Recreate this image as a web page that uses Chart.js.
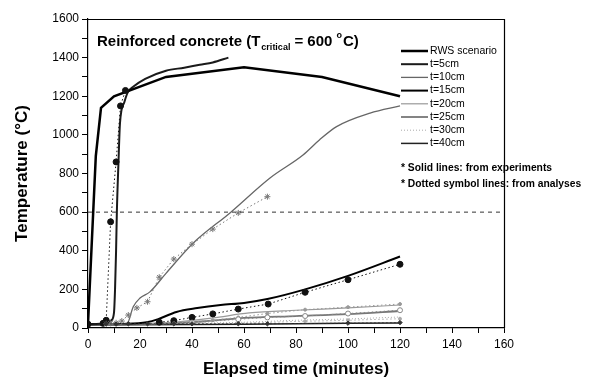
<!DOCTYPE html>
<html>
<head>
<meta charset="utf-8">
<script src="https://cdn.jsdelivr.net/npm/chart.js@4/dist/chart.umd.min.js"></script>
<style>
  body { margin: 0; background: #fff; }
  canvas { display: block; }
</style>
</head>
<body>
<canvas id="chart" width="597" height="378"></canvas>
<script>
// ---- data ----
var rwsTime = [0, 3, 5, 10, 30, 60, 90, 120];
var rwsTemp = [20, 890, 1140, 1200, 1300, 1350, 1300, 1200];

// experiments (solid lines)
var t5Time = [0, 7, 9, 10, 10.4, 10.8, 11.1, 11.7, 12.3, 14, 15.3, 17.5, 22, 30, 37, 43, 48, 54];
var t5Temp = [20, 25, 40, 80, 200, 400, 600, 850, 1060, 1170, 1220, 1250, 1290, 1332, 1348, 1363, 1375, 1400];
var t10Time = [0, 12, 15, 17.4, 20, 23.8, 30, 40.5, 54.6, 70, 82.7, 89, 95.6, 108.5, 120];
var t10Temp = [18, 18, 22, 110, 155, 187, 283, 440, 596, 777, 896, 974, 1043, 1113, 1150];
var t15Time = [0, 15, 22.6, 27, 34, 42, 51, 60, 69, 83.5, 100, 120];
var t15Temp = [20, 22, 30, 46, 83, 103, 119, 130, 150, 200, 270, 370];
var t20Time = [0, 20, 34, 48, 62, 80, 100, 120];
var t20Temp = [20, 22, 31, 52, 78, 92, 104, 119];
var t25Time = [0, 30, 45, 60, 80, 100, 120];
var t25Temp = [20, 24, 35, 52, 62, 72, 88];
var t30Time = [0, 40, 60, 80, 100, 120];
var t30Temp = [18, 24, 30, 40, 47, 57];
var t40Time = [0, 60, 120];
var t40Temp = [15, 20, 26];

// analyses (dotted symbol lines)
var a5Time = [0, 5.8, 7, 8.7, 10.8, 12.5, 14.4];
var a5Temp = [20, 24, 40, 550, 860, 1150, 1230];
var a10Time = [7, 8.7, 10.8, 13, 15.5, 18.8, 22.9, 27.4, 33, 40, 48, 57.8, 69];
var a10Temp = [22, 24, 27, 36, 67, 104, 136, 263, 357, 434, 512, 596, 680];
var a15Time = [27.4, 33, 40, 48, 57.8, 69.3, 83.5, 100, 120];
var a15Temp = [30, 38, 55, 73, 98, 124, 185, 250, 330];
var a20Time = [33, 48, 57.8, 69, 83.5, 100, 120];
var a20Temp = [25, 40, 55, 75, 95, 108, 124];
var a25Time = [40, 57.8, 69, 83.5, 100, 120];
var a25Temp = [28, 45, 55, 62, 75, 92];
var a30Time = [57.8, 83.5, 100, 120];
var a30Temp = [25, 35, 40, 48];
var a40Time = [7, 10.8, 15.5, 22.9, 33, 40, 57.8, 69, 100, 120];
var a40Temp = [22, 20, 22, 22, 22, 22, 22, 22, 25, 28];

var criticalTime = [0, 160];
var criticalTemp = [600, 600];

var xTicks = [0, 20, 40, 60, 80, 100, 120, 140, 160];
var yTicks = [0, 200, 400, 600, 800, 1000, 1200, 1400, 1600];

function pts(xs, ys) {
  return xs.map(function (x, i) { return { x: x, y: ys[i] }; });
}

var FONT = '"Liberation Sans", Arial, sans-serif';

function expSet(label, xs, ys, color, width, dash) {
  return {
    label: label, data: pts(xs, ys), showLine: true, inLegend: true,
    borderColor: color, borderWidth: width, borderDash: dash || [],
    pointRadius: 0, cubicInterpolationMode: 'monotone', fill: false
  };
}

function anaSet(label, xs, ys, color, style, radius, fillColor) {
  return {
    label: label, data: pts(xs, ys), showLine: true,
    borderColor: color, borderWidth: 1, borderDash: [1.5, 2.5],
    pointRadius: radius, pointStyle: style,
    pointBackgroundColor: fillColor, pointBorderColor: color, pointBorderWidth: 1,
    fill: false
  };
}

var datasets = [
  { label: 'critical', data: pts(criticalTime, criticalTemp), showLine: true,
    borderColor: '#333', borderWidth: 1, borderDash: [4, 4], pointRadius: 0 },
  anaSet('a40', a40Time, a40Temp, '#333', 'rectRot', 2.2, '#333'),
  anaSet('a30', a30Time, a30Temp, '#aaa', 'circle', 1.5, '#aaa'),
  anaSet('a25', a25Time, a25Temp, '#888', 'circle', 2.5, '#fff'),
  anaSet('a20', a20Time, a20Temp, '#999', 'circle', 1.5, '#999'),
  anaSet('a15', a15Time, a15Temp, '#111', 'circle', 3, '#111'),
  anaSet('a10', a10Time, a10Temp, '#777', 'star', 3, '#777'),
  anaSet('a5', a5Time, a5Temp, '#111', 'circle', 3, '#111'),
  expSet('RWS scenario', rwsTime, rwsTemp, '#000', 2.5),
  expSet('t=5cm', t5Time, t5Temp, '#1a1a1a', 2),
  expSet('t=10cm', t10Time, t10Temp, '#666', 1.3),
  expSet('t=15cm', t15Time, t15Temp, '#000', 2),
  expSet('t=20cm', t20Time, t20Temp, '#999', 1.2),
  expSet('t=25cm', t25Time, t25Temp, '#777', 1.8),
  expSet('t=30cm', t30Time, t30Temp, '#aaa', 1, [1, 2]),
  expSet('t=40cm', t40Time, t40Temp, '#222', 1.5)
];
// RWS is piecewise linear
datasets[8].cubicInterpolationMode = 'default';
datasets[8].tension = 0;

var decorPlugin = {
  id: 'decor',
  afterDatasetsDraw: function (chart) {
    var ctx = chart.ctx, a = chart.chartArea;
    ctx.save();
    // frame top and right
    ctx.strokeStyle = '#000';
    ctx.lineWidth = 1.2;
    ctx.beginPath();
    ctx.moveTo(a.left, a.top + 0.5);
    ctx.lineTo(a.right + 0.5, a.top + 0.5);
    ctx.lineTo(a.right + 0.5, a.bottom);
    ctx.stroke();

    // title with subscript and degree
    ctx.fillStyle = '#000';
    ctx.textBaseline = 'alphabetic';
    var x = 97, y = 46;
    ctx.font = 'bold 15px ' + FONT;
    ctx.fillText('Reinforced concrete (T', x, y);
    x += ctx.measureText('Reinforced concrete (T').width + 1;
    ctx.font = 'bold 9px ' + FONT;
    ctx.fillText('critical', x, y + 4);
    x += ctx.measureText('critical').width + 4;
    ctx.font = 'bold 15px ' + FONT;
    ctx.fillText('= 600 ', x, y);
    x += ctx.measureText('= 600 ').width;
    ctx.font = 'bold 9px ' + FONT;
    ctx.fillText('o', x, y - 8);
    x += ctx.measureText('o').width + 1;
    ctx.font = 'bold 15px ' + FONT;
    ctx.fillText('C)', x, y);

    // legend built from the experiment datasets
    var rows = chart.data.datasets.filter(function (d) { return d.inLegend; });
    ctx.font = '10.5px ' + FONT;
    ctx.textBaseline = 'middle';
    rows.forEach(function (d, i) {
      var ly = 51 + i * 13.2;
      ctx.strokeStyle = d.borderColor;
      ctx.lineWidth = d.borderWidth;
      ctx.setLineDash(d.borderDash || []);
      ctx.beginPath();
      ctx.moveTo(401, ly);
      ctx.lineTo(428, ly);
      ctx.stroke();
      ctx.setLineDash([]);
      ctx.fillStyle = '#000';
      ctx.fillText(d.label, 430, ly);
    });

    ctx.font = 'bold 10.3px ' + FONT;
    ctx.fillText('* Solid lines: from experiments', 401, 168);
    ctx.fillText('* Dotted symbol lines: from analyses', 401, 184);
    ctx.restore();
  }
};

new Chart(document.getElementById('chart'), {
  type: 'scatter',
  data: { datasets: datasets },
  options: {
    responsive: false,
    animation: false,
    devicePixelRatio: 1,
    layout: { padding: { top: 19, right: 93, left: 0, bottom: 0 } },
    plugins: { legend: { display: false }, tooltip: { enabled: false } },
    scales: {
      x: {
        type: 'linear', min: 0, max: 160,
        afterFit: function (s) { s.height = 50; },
        afterBuildTicks: function (s) {
          var t = [];
          for (var v = 0; v <= 160; v += 10) t.push({ value: v });
          s.ticks = t;
        },
        ticks: {
          color: '#000', padding: 4, maxRotation: 0, autoSkip: false,
          font: { family: FONT, size: 12 },
          callback: function (v) { return xTicks.indexOf(v) >= 0 ? String(v) : ''; }
        },
        grid: { drawOnChartArea: false, tickLength: 5, tickColor: '#000', tickWidth: 1 },
        border: { color: '#000', width: 1.2 },
        title: {
          display: true, text: 'Elapsed time (minutes)', color: '#000',
          font: { family: FONT, size: 17, weight: 'bold', lineHeight: 1 },
          padding: { top: 0, bottom: 0 }
        }
      },
      y: {
        type: 'linear', min: 0, max: 1600,
        afterFit: function (s) { s.width = 88; },
        afterBuildTicks: function (s) {
          var t = [];
          for (var v = 0; v <= 1600; v += 100) t.push({ value: v });
          s.ticks = t;
        },
        ticks: {
          color: '#000', padding: 3, autoSkip: false,
          font: { family: FONT, size: 12 },
          callback: function (v) { return yTicks.indexOf(v) >= 0 ? String(v) : ''; }
        },
        grid: { drawOnChartArea: false, tickLength: 6, tickColor: '#000', tickWidth: 1 },
        border: { color: '#000', width: 1.2 },
        title: {
          display: true, text: 'Temperature (°C)', color: '#000',
          font: { family: FONT, size: 17, weight: 'bold', lineHeight: 1 },
          padding: { top: 14, bottom: 0 }
        }
      }
    }
  },
  plugins: [decorPlugin]
});
</script>
</body>
</html>
